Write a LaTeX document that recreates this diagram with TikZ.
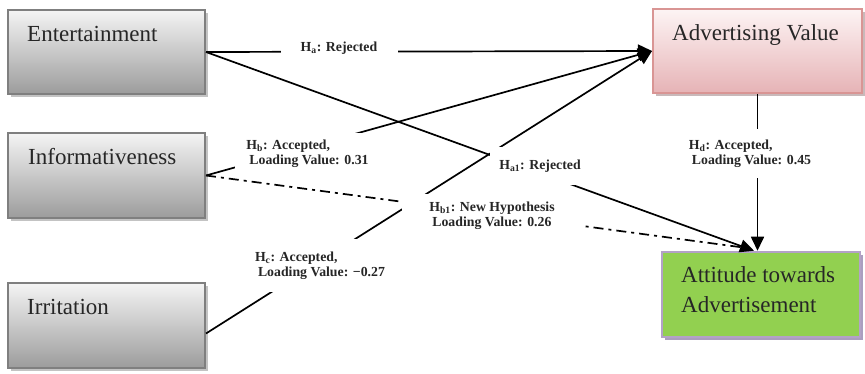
\documentclass[tikz,border=0pt]{standalone}
\usepackage{fontspec}
\setmainfont{Liberation Serif}
\usetikzlibrary{arrows.meta,calc,shadows}
\definecolor{gtop}{HTML}{F4F4F4}
\definecolor{gbot}{HTML}{9C9C9C}
\definecolor{gborder}{HTML}{7F7F7F}
\definecolor{gshadow}{HTML}{B4B4B4}
\definecolor{ptop}{HTML}{FDF4F4}
\definecolor{pbot}{HTML}{E6B3B6}
\definecolor{pborder}{HTML}{D99594}
\definecolor{pshadow}{HTML}{BCA8A9}
\definecolor{agreen}{HTML}{92D050}
\definecolor{aborder}{HTML}{B3A2C7}
\definecolor{ashadow}{HTML}{A294B8}
\begin{document}
\begin{tikzpicture}[x=1pt,y=-1pt,
  boxbase/.style={inner sep=0pt, line width=2pt},
  graybox/.style={boxbase, draw=gborder, top color=gtop, bottom color=gbot,
     drop shadow={shadow xshift=3pt, shadow yshift=-3pt, fill=gshadow, opacity=0.8}},
  pinkbox/.style={boxbase, draw=pborder, top color=ptop, bottom color=pbot,
     drop shadow={shadow xshift=3pt, shadow yshift=-3pt, fill=pshadow, opacity=0.8}},
  greenbox/.style={boxbase, draw=aborder, fill=agreen, line width=2.5pt,
     drop shadow={shadow xshift=3pt, shadow yshift=-3pt, fill=ashadow, opacity=0.9}},
  boxtext/.style={inner sep=0pt, font=\fontsize{23}{29}\selectfont, text=black!85},
  conn/.style={line width=1.7pt, black},
  arrowconn/.style={conn, -{Triangle[length=14pt,width=13pt]}},
  dashconn/.style={conn, dash pattern=on 10pt off 5pt on 3pt off 5pt},
  lbl/.style={fill=white, align=left, inner sep=0pt,
     font=\fontsize{13.8}{15}\selectfont\bfseries, text=black!85}
]
\useasboundingbox (0,0) rectangle (865,374);

% boxes
\node[graybox, minimum width=197pt, minimum height=84pt] (E) at (106.5,52) {};
\node[graybox, minimum width=197pt, minimum height=85pt] (I) at (106.5,175.5) {};
\node[graybox, minimum width=197pt, minimum height=85pt] (R) at (106.5,325.5) {};
\node[pinkbox, minimum width=209pt, minimum height=84pt] (AV) at (757.5,51) {};
\node[greenbox, minimum width=198pt, minimum height=85pt] (AT) at (761,294.5) {};

% box texts
\node[boxtext, anchor=base west] (tE) at (27,42) {Entertainment};
\node[boxtext, anchor=base west] (tI) at (28,165) {Informativeness};
\node[boxtext, anchor=base west] (tR) at (27,314) {Irritation};
\node[boxtext, anchor=base west] (tAV) at (672,41) {Advertising Value};
\node[boxtext, anchor=base west] (tAT1) at (681,283) {Attitude towards};
\node[boxtext, anchor=base west] (tAT2) at (681,312) {Advertisement};

% connector end points
\coordinate (rout) at ($(R.east)+(0,8)$);
\coordinate (attip) at ($(AT.north)+(-7,0)$);
\coordinate (dashend) at ($(AT.north)+(-16,-3)$);

% connectors
\draw[arrowconn] (E.east) -- (AV.west);
\draw[arrowconn] (I.east) -- (AV.west);
\draw[arrowconn] (rout) -- (AV.west);
\draw[dashconn] (I.east) -- (dashend);
\draw[arrowconn] (E.east) -- (attip);
\draw[arrowconn] (AV.south) -- (AV.south |- AT.north);

% labels
\node[lbl, minimum width=117pt, minimum height=24pt] (la) at (339,48) {H\textsubscript{a}: Rejected};
\node[lbl, minimum width=146pt, minimum height=42pt] (lb) at (307.5,154) {H\textsubscript{b}: Accepted,\\\hspace*{3pt}Loading Value: 0.31};
\node[lbl, minimum width=100pt, minimum height=38pt] (la1) at (540,166) {H\textsubscript{a1}: Rejected};
\node[lbl, minimum width=130pt, minimum height=49pt] (ld) at (750,154) {H\textsubscript{d}: Accepted,\\\hspace*{3pt}Loading Value: 0.45};
\node[lbl, minimum width=180pt, minimum height=44pt] (lb1) at (492,216) {H\textsubscript{b1}: New Hypothesis\\\hspace*{3pt}Loading Value: 0.26};
\node[lbl, minimum width=140pt, minimum height=52pt] (lc) at (320,265.5) {H\textsubscript{c}: Accepted,\\\hspace*{3pt}Loading Value: −0.27};
\end{tikzpicture}
\end{document}
